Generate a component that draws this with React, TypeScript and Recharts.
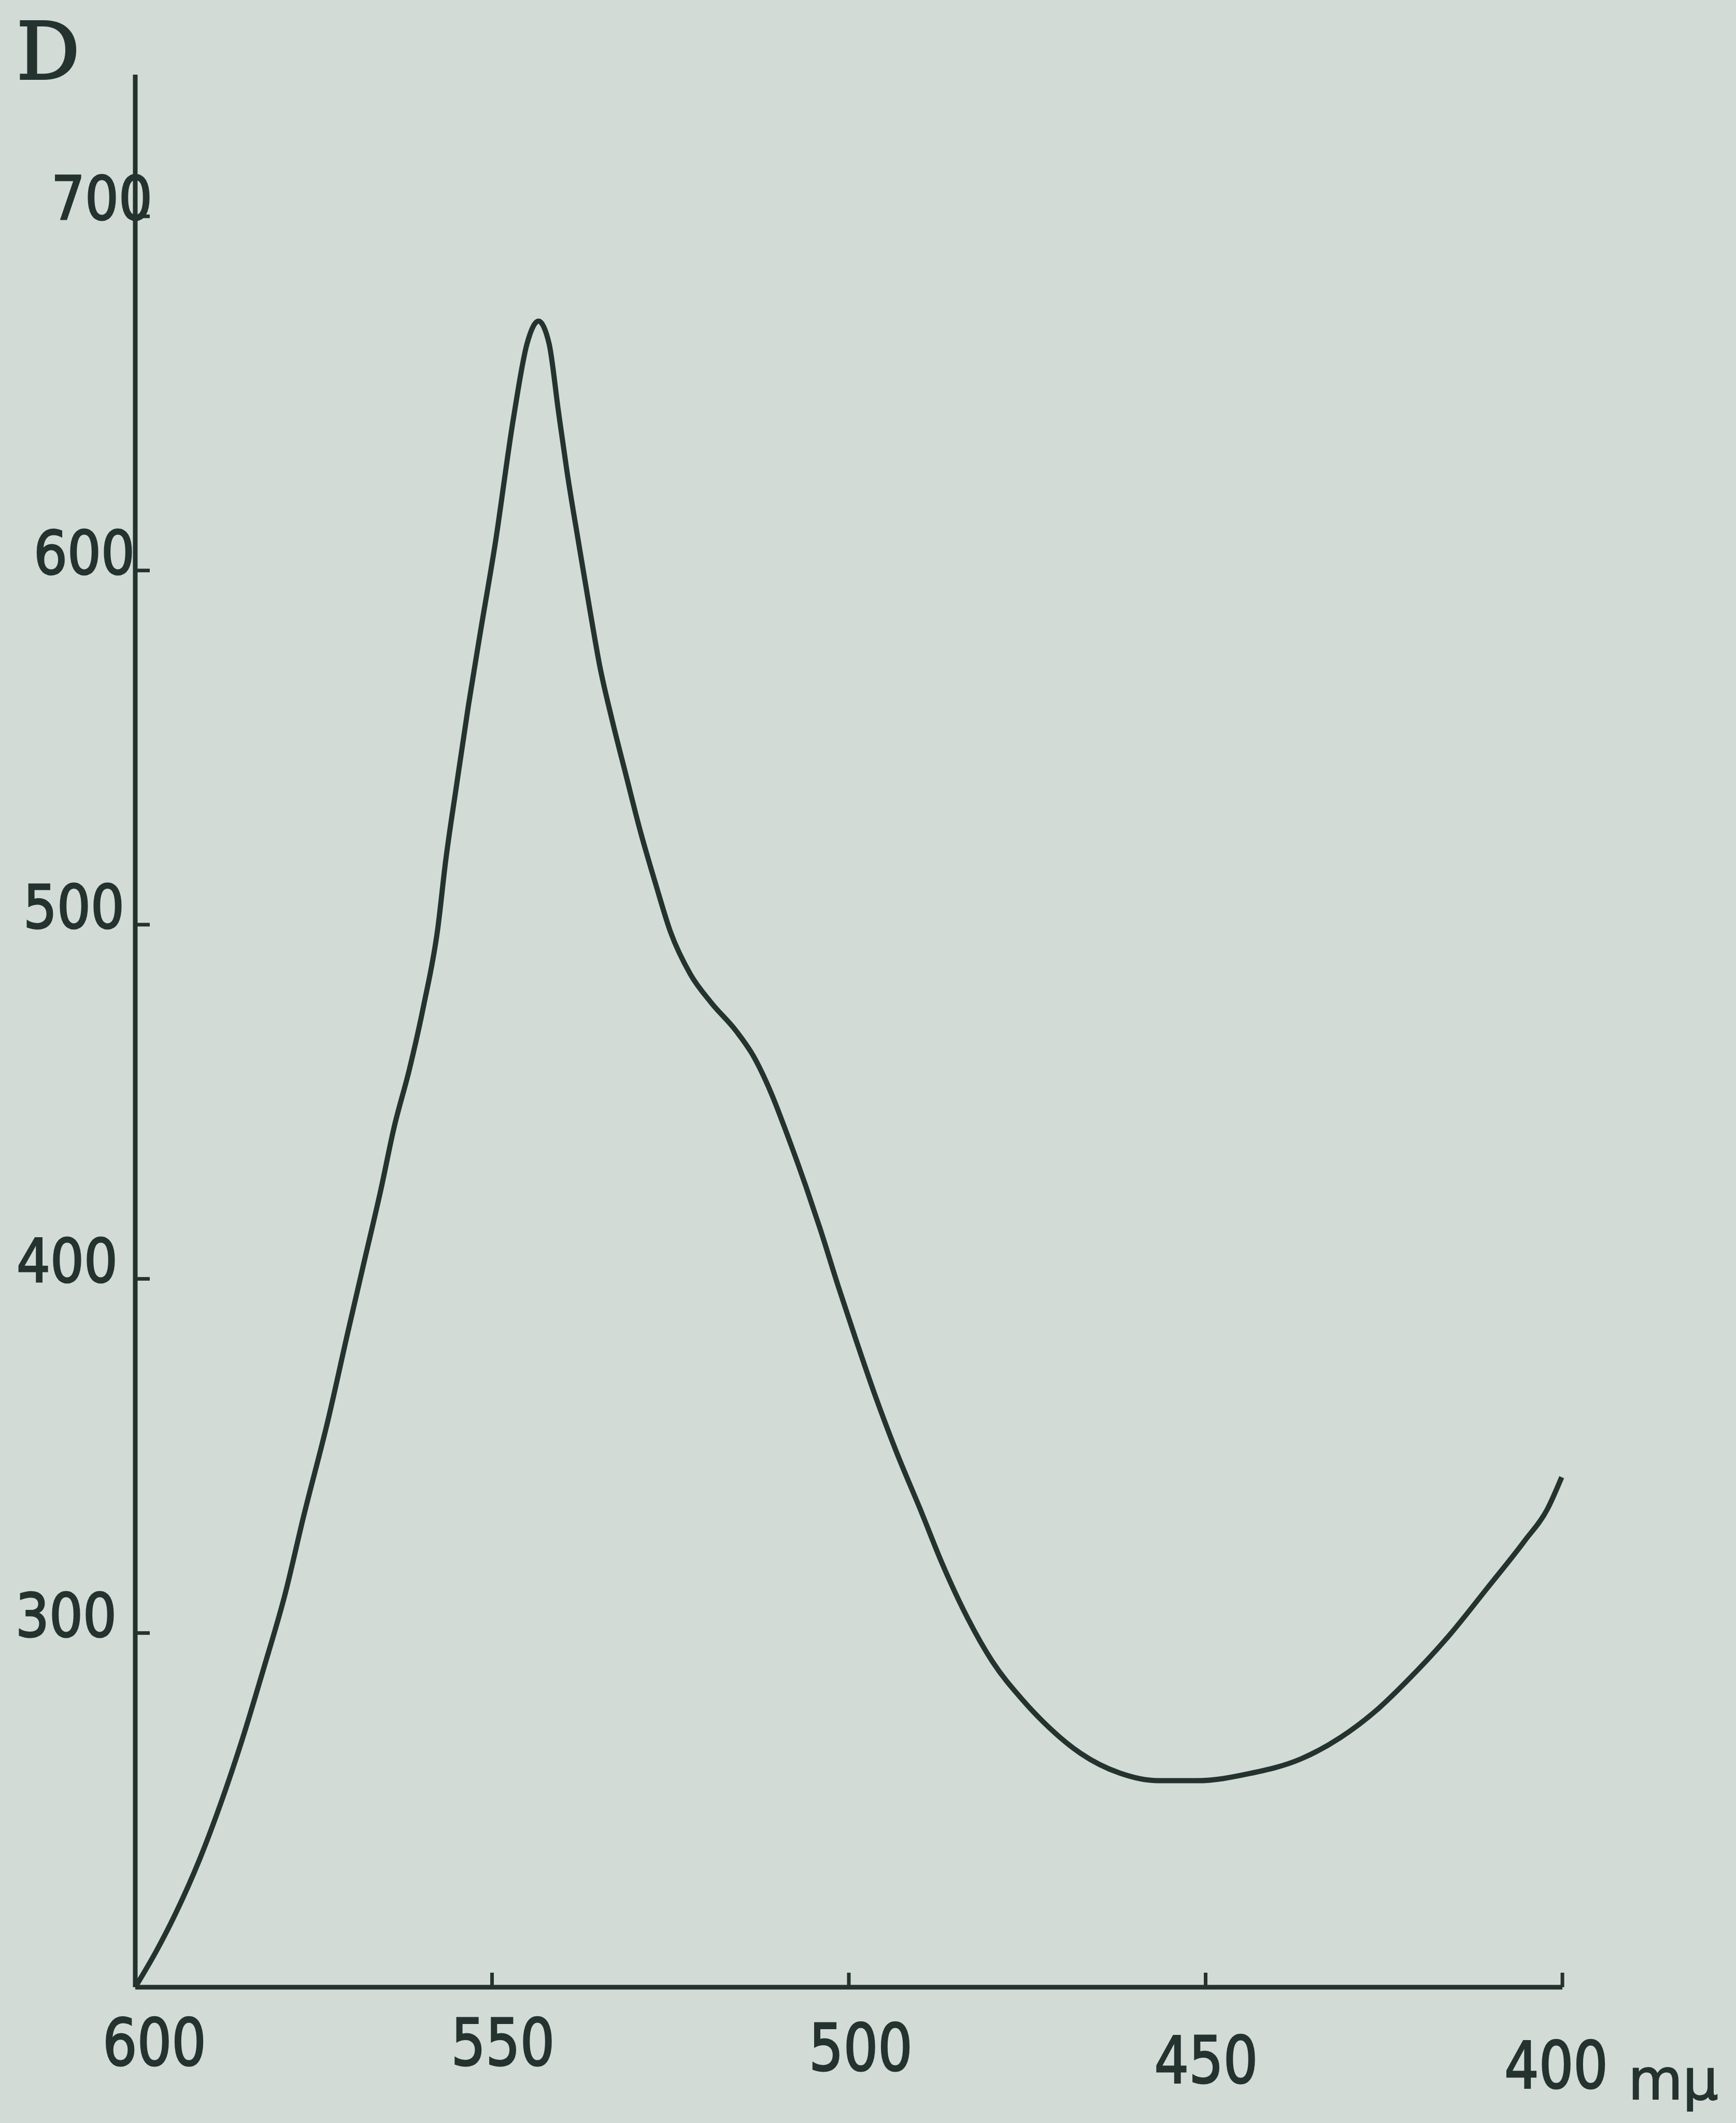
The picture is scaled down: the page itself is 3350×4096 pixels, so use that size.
import { LineChart, Line, XAxis, YAxis } from "recharts";

const wavelengths = [
  600, 597.1, 594.3, 591.0, 588.0, 585.0, 582.0, 579.0, 576.4, 573.0, 570.2,
  567.9, 565.6, 563.7, 561.6, 559.6, 557.6, 556.5, 555.0, 553.3, 551.6, 549.6,
  547.0, 545.1, 543.5, 542.0, 540.7, 539.5, 537.8, 536.3, 534.9, 533.2, 531.2,
  529.3, 527.0, 525.0, 522.2, 519.3, 515.8, 513.4, 511.0, 508.5, 506.0, 504.0,
  501.5, 499.2, 496.3, 493.5, 489.8, 487.0, 483.3, 479.9, 475.6, 472.8, 467.5,
  462.1, 456.6, 451.2, 443.9, 436.6, 431.1, 425.6, 422.0, 416.0, 410.6,
  405.3, 402.1, 400.1,
];

// D values at those wavelengths
const density = [
  200, 210, 221, 236, 252, 270, 290, 311, 333, 360, 385,
  405, 425, 443, 459, 477, 499, 518, 539, 562, 583, 607,
  643, 664, 670.4, 664, 645, 628, 607, 589, 573, 558, 542,
  527, 511, 498, 486, 478, 470, 463, 453, 440, 426, 414,
  398, 384, 367, 352, 334, 320, 304, 292, 281, 275, 266,
  260.5, 258.3, 258.3, 260.3, 264.5, 270.5, 279, 286, 299, 312.5,
  326, 335, 344,
];

const xTicks = [600, 550, 500, 450, 400];
const yTicks = [300, 400, 500, 600, 700];

const W = 3350;
const H = 4096;
const PLOT_LEFT = 261;
const PLOT_RIGHT = 3015;
const PLOT_TOP = 144;
const PLOT_BOTTOM = 3834;
const AXIS_SIZE = 60;

const INK = "#24332f";
const PAPER = "#d2dbd5";
const FONT = "'DejaVu Sans', sans-serif";

// hand lettering drifts a bit from label to label
const yLabelShift: Record<number, number> = { 700: 33, 600: -1, 500: -21, 400: -34, 300: -36 };
const xLabelShift: Record<number, [number, number]> = {
  600: [37, 150],
  550: [21, 150],
  500: [23, 160],
  450: [1, 184],
  400: [-12, 194],
};

const data = wavelengths.map((w, i) => ({ w, d: density[i] }));

function YTick(props: any) {
  const v = props.payload.value;
  const y = props.payload.coordinate;
  const right = PLOT_LEFT + (yLabelShift[v] ?? -20);
  return (
    <g>
      <line x1={PLOT_LEFT} x2={PLOT_LEFT + 28} y1={y} y2={y} stroke={INK} strokeWidth={7} />
      <text
        x={right - 195}
        y={y + 6}
        fontSize={115}
        fontFamily={FONT}
        fill={INK}
        stroke={INK}
        strokeWidth={3}
        textLength={195}
        lengthAdjust="spacingAndGlyphs"
      >
        {v}
      </text>
    </g>
  );
}

function XTick(props: any) {
  const v = props.payload.value;
  const x = props.payload.coordinate;
  const [dx, dy] = xLabelShift[v] ?? [0, 160];
  return (
    <g>
      {v !== 600 && (
        <line x1={x} x2={x} y1={PLOT_BOTTOM} y2={PLOT_BOTTOM - 28} stroke={INK} strokeWidth={7} />
      )}
      <text
        x={x + dx - 100}
        y={PLOT_BOTTOM + dy}
        fontSize={125}
        fontFamily={FONT}
        fill={INK}
        stroke={INK}
        strokeWidth={3}
        textLength={200}
        lengthAdjust="spacingAndGlyphs"
      >
        {v}
      </text>
    </g>
  );
}

export default function App() {
  return (
    <div
      style={{
        position: "absolute",
        left: 0,
        top: 0,
        width: W,
        height: H,
        background: PAPER,
        overflow: "hidden",
      }}
    >
      <LineChart
        width={W}
        height={H}
        data={data}
        margin={{
          top: PLOT_TOP,
          right: W - PLOT_RIGHT,
          left: PLOT_LEFT - AXIS_SIZE,
          bottom: H - PLOT_BOTTOM - AXIS_SIZE,
        }}
      >
        <XAxis
          dataKey="w"
          type="number"
          domain={[400, 600]}
          reversed
          ticks={xTicks}
          interval={0}
          height={AXIS_SIZE}
          axisLine={{ stroke: INK, strokeWidth: 9 }}
          tickLine={false}
          tickSize={0}
          tick={<XTick />}
        />
        <YAxis
          type="number"
          domain={[200, 740]}
          ticks={yTicks}
          interval={0}
          width={AXIS_SIZE}
          axisLine={{ stroke: INK, strokeWidth: 9 }}
          tickLine={false}
          tickSize={0}
          tick={<YTick />}
        />
        <Line
          dataKey="d"
          type="monotone"
          stroke={INK}
          strokeWidth={10}
          dot={false}
          isAnimationActive={false}
        />
      </LineChart>
      <svg
        width={W}
        height={H}
        style={{ position: "absolute", left: 0, top: 0, pointerEvents: "none" }}
      >
        <text
          x={32}
          y={152}
          fontSize={152}
          fontFamily="'DejaVu Serif', serif"
          fill={INK}
          stroke={INK}
          strokeWidth={4}
        >
          D
        </text>
        <text
          x={3142}
          y={4050}
          fontSize={108}
          fontFamily={FONT}
          fill={INK}
          stroke={INK}
          strokeWidth={2}
        >
          mμ
        </text>
      </svg>
    </div>
  );
}
